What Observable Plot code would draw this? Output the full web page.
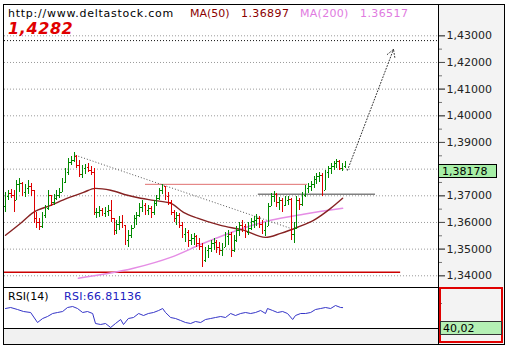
<!DOCTYPE html>
<html><head><meta charset="utf-8">
<script src="https://cdn.jsdelivr.net/npm/d3@7"></script>
<script src="https://cdn.jsdelivr.net/npm/@observablehq/plot@0.6"></script>
<style>
html,body{margin:0;padding:0;background:#fff;}
#wrap{position:relative;width:509px;height:351px;overflow:hidden;font-family:"DejaVu Sans",Verdana,sans-serif;font-size:11px;line-height:1;}
.abs{position:absolute;white-space:nowrap;}
#price,#rsi{position:absolute;left:0;}
#price{top:0;} #rsi{top:287px;}
</style></head><body><div id="wrap">
<div class="abs" style="left:438px;top:4px;width:66px;height:341px;background:#f3f3f3"></div>
<div class="abs" style="left:4px;top:329px;width:434px;height:15px;background:#f1f1f1"></div>
<div id="price"></div>
<div id="rsi"></div>
<div class="abs" style="left:3px;top:4px;width:502px;height:341px;border:1px solid #000;box-sizing:border-box"></div>
<div class="abs" style="left:438px;top:4px;width:1px;height:341px;background:#000"></div>
<div class="abs" style="left:4px;top:287px;width:434px;height:1px;background:#000"></div>
<div class="abs" style="left:4px;top:328px;width:434px;height:1px;background:#000"></div>
<div class="abs" style="left:439px;top:287px;width:64px;height:56px;border:2px solid #e00000;box-sizing:border-box"></div>
<div id="hdr"></div>
</div>
<script>
// ---- data (bar index 0..119) ----
const high = [
1.3713,1.3721,1.3724,1.3721,1.3758,1.3766,1.3751,1.3743,1.3758,1.3747,
1.3721,1.3638,1.3616,1.3638,1.3664,1.3721,1.3702,1.3706,1.3721,1.3728,
1.3766,1.3803,1.3841,1.3848,1.3863,1.3852,1.3833,1.3814,1.3818,1.3822,
1.3811,1.3803,1.3653,1.3661,1.3653,1.3657,1.3664,1.3683,1.3616,1.3608,
1.3623,1.3627,1.3589,1.3571,1.3589,1.3627,1.3638,1.3672,1.3683,1.3672,
1.3664,1.3661,1.3683,1.3702,1.3728,1.3743,1.3736,1.3713,1.3683,1.3646,
1.3638,1.3634,1.3601,1.3578,1.3571,1.3556,1.3559,1.3552,1.3541,1.3522,
1.3507,1.3514,1.3533,1.3541,1.3533,1.3526,1.3522,1.3563,1.3571,1.3563,
1.3552,1.3586,1.3601,1.3608,1.3593,1.3601,1.3616,1.3623,1.3631,1.3623,
1.3608,1.3601,1.3672,1.3709,1.3717,1.3709,1.3694,1.3691,1.3698,1.3698,
1.3691,1.3601,1.3698,1.3691,1.3713,1.3739,1.3747,1.3754,1.3773,1.3784,
1.3788,1.3784,1.3796,1.3811,1.3822,1.3829,1.3837,1.3833,1.3822,1.3829];
const low = [
1.3638,1.3683,1.3691,1.3638,1.3683,1.3713,1.3698,1.3694,1.3706,1.3698,
1.3597,1.3578,1.3571,1.3578,1.3616,1.3646,1.3661,1.3664,1.3683,1.3691,
1.3713,1.3747,1.3777,1.3814,1.3826,1.3803,1.3769,1.3766,1.3781,1.3788,
1.3777,1.3627,1.3616,1.3619,1.3623,1.3619,1.3623,1.3601,1.3552,1.3556,
1.3571,1.3578,1.3514,1.3507,1.3541,1.3578,1.3589,1.3619,1.3638,1.3627,
1.3627,1.3616,1.3627,1.3661,1.3683,1.3706,1.3683,1.3664,1.3627,1.3601,
1.3589,1.3578,1.3541,1.3526,1.3507,1.3514,1.3514,1.3507,1.3496,1.3432,
1.3451,1.3466,1.3488,1.3496,1.3484,1.3477,1.3473,1.3507,1.3514,1.3469,
1.3488,1.3526,1.3548,1.3563,1.3541,1.3552,1.3571,1.3578,1.3586,1.3578,
1.3556,1.3548,1.3586,1.3661,1.3676,1.3657,1.3646,1.3638,1.3661,1.3664,
1.3533,1.3522,1.3575,1.3646,1.3661,1.3694,1.3709,1.3717,1.3728,1.3743,
1.3751,1.3698,1.3718,1.3766,1.3781,1.3796,1.3803,1.3796,1.3792,1.3803];
const close = [
1.3698,1.3709,1.3702,1.3683,1.3743,1.3747,1.3713,1.3728,1.3736,1.3721,
1.3616,1.3601,1.3586,1.3627,1.3653,1.3702,1.3676,1.3691,1.3702,1.3713,
1.3751,1.3788,1.3826,1.3833,1.3848,1.3814,1.3781,1.3803,1.3807,1.3796,
1.3788,1.3638,1.3638,1.3646,1.3634,1.3642,1.3646,1.3616,1.3571,1.3593,
1.3601,1.3589,1.3533,1.3552,1.3578,1.3616,1.3627,1.3657,1.3664,1.3646,
1.3653,1.3638,1.3672,1.3691,1.3721,1.3736,1.3698,1.3676,1.3638,1.3616,
1.3627,1.3589,1.3556,1.3563,1.3533,1.3541,1.3548,1.3522,1.3511,1.3458,
1.3496,1.3503,1.3522,1.3526,1.3507,1.3496,1.3507,1.3548,1.3556,1.3496,
1.3533,1.3571,1.3589,1.3586,1.3563,1.3578,1.3604,1.3608,1.3616,1.3593,
1.3571,1.3586,1.3661,1.3698,1.3706,1.3676,1.3683,1.3664,1.3683,1.3687,
1.3556,1.3578,1.3683,1.3668,1.3702,1.3728,1.3736,1.3743,1.3762,1.3773,
1.3777,1.3721,1.3788,1.3803,1.3811,1.3822,1.3829,1.3803,1.3811,1.3818];
const firstOpen = 1.3660;

const ma50Idx = [0,5.3,9.8,15.8,21.7,27.3,31.5,36.8,42.7,47.3,51.8,57.8,62.3,67.2,75.3,83.3,91,96.3,102.2,107.8,113.8,118];
const ma50 = [1.3552,1.3597,1.3638,1.3664,1.3691,1.3713,1.3728,1.3721,1.3702,1.3691,1.3683,1.3672,1.3638,1.3616,1.3589,1.3571,1.3544,1.3559,1.3582,1.3608,1.3653,1.3691];
const ma200Idx = [25.5,44.8,57.8,69.3,81.2,92.8,104.3,118];
const ma200 = [1.3391,1.3428,1.3469,1.3522,1.3571,1.3608,1.3631,1.3653];

const rsiIdx = [0,1.8,4.2,6.3,8.8,11.2,13,14.7,16.5,18.2,20,21.7,23.5,25.2,27,28.7,30.5,31.5,33.3,35,36.8,38.5,40.3,41.3,43,44.8,46.6,48.3,50,51.8,53.6,55,56,57.8,59.5,61.3,63,64.8,66.5,68.3,70,71.8,73.5,75.3,77,78.8,80.5,82.3,84,85.8,87.5,89.3,91,91.7,93.5,95.2,97,98.7,100.5,101.5,103.3,105,106.8,108.5,110.3,112,113.8,115.5,117.3,118];
const rsi = [65,67,63,59,57,37,45,49,55,57,59,67,69,65,57,59,55,35,33,35,27,35,43,33,45,47,55,51,55,57,61,65,57,47,45,41,37,35,39,37,43,45,47,49,47,55,51,55,57,55,57,61,55,65,61,57,59,55,43,51,55,55,57,63,65,67,65,71,67,66.8];

const gridLevels = [1.34,1.35,1.36,1.37,1.38,1.39,1.40,1.41,1.42,1.43];
const labelLevels = [1.34,1.35,1.36,1.37,1.39,1.40,1.41,1.42,1.43]; // 1.38 is hidden under the last-price box
const minorLevels = [1.345,1.355,1.365,1.375,1.385,1.395,1.405,1.415,1.425];
const targetLevel = 1.4282;
const trendX = [24.5, 99.75], trendY = [1.3852, 1.3578];
const resistX = [49, 105.7], resistLevel = 1.3743;
const neckX = [88.5, 129.5], neckLevel = 1.3706;
const supportX = [-0.35, 138.3], supportLevel = 1.3413;
const projX = [119.7, 135.8], projY = [1.3796, 1.4249];

const headerTexts = {url:"http://www.deltastock.com", ma50Name:"MA(50)", ma50Val:"1.36897", ma200Name:"MA(200)", ma200Val:"1.36517", target:"1,4282", rsiName:"RSI(14)", rsiVal:"RSI:66.81136", lastPrice:"1,38178", rsiAxis:"40,02"};

// ---- build ----
const bars = close.map((c,i)=>({i, open: i ? close[i-1] : firstOpen, high: high[i], low: low[i], close: c}));
const UP = "#008a00", DOWN = "#dd0000";
const col = d => d.close >= d.open ? UP : DOWN;
const xDomain = [-0.35, 151.55];
const fmt = d => d.toFixed(5).replace(".", ",");

const pricePlot = Plot.plot({
  width: 509, height: 351,
  marginTop: 4, marginBottom: 64, marginLeft: 4, marginRight: 71,
  x: {domain: xDomain, axis: null},
  y: {domain: [1.33561, 1.44174], axis: null},
  color: {type: "identity"},
  style: {background: "transparent", fontFamily: "DejaVu Sans", fontSize: "11px", color: "#222"},
  marks: [
    Plot.gridY(gridLevels, {stroke: "#9a9a9a", strokeOpacity: 1, strokeDasharray: "1,2"}),
    Plot.ruleY([targetLevel], {stroke: "#111", strokeDasharray: "1,2"}),
    Plot.ruleY([supportLevel], {x1: supportX[0], x2: supportX[1], stroke: "#cc0000", strokeWidth: 1.5}),
    Plot.ruleY([resistLevel], {x1: resistX[0], x2: resistX[1], stroke: "#e07070", strokeWidth: 1}),
    Plot.ruleY([neckLevel], {x1: neckX[0], x2: neckX[1], stroke: "#808080", strokeWidth: 1.5}),
    Plot.link([0], {x1: trendX[0], y1: trendY[0], x2: trendX[1], y2: trendY[1], stroke: "#555", strokeDasharray: "1,2"}),
    Plot.line(ma200.map((v,k)=>({i: ma200Idx[k], v})), {x: "i", y: "v", stroke: "#e58de5", strokeWidth: 1.5, curve: "monotone-x"}),
    Plot.line(ma50.map((v,k)=>({i: ma50Idx[k], v})), {x: "i", y: "v", stroke: "#862222", strokeWidth: 1.4, curve: "monotone-x"}),
    Plot.ruleX(bars, {x: "i", y1: "low", y2: "high", stroke: col, shapeRendering: "crispEdges"}),
    Plot.ruleY(bars, {y: "open", x1: d => d.i - 0.45, x2: "i", stroke: col, shapeRendering: "crispEdges"}),
    Plot.ruleY(bars, {y: "close", x1: "i", x2: d => d.i + 0.45, stroke: col, shapeRendering: "crispEdges"}),
    Plot.arrow([0], {x1: projX[0], y1: projY[0], x2: projX[1], y2: projY[1], stroke: "#333", strokeDasharray: "1,2", headLength: 12, strokeWidth: 1}),
    Plot.axisY(gridLevels, {anchor: "right", tickSize: 6, tickFormat: () => "", stroke: "#555", label: null}),
    Plot.axisY(labelLevels, {anchor: "right", tickSize: 6, tickPadding: 2, tickFormat: fmt, stroke: "#555", fill: "#222", label: null}),
    Plot.axisY(minorLevels, {anchor: "right", tickSize: 3, tickFormat: () => "", stroke: "#777", label: null})
  ]
});
document.getElementById("price").appendChild(pricePlot);

const rsiPlot = Plot.plot({
  width: 509, height: 56,
  marginTop: 0, marginBottom: 14, marginLeft: 4, marginRight: 71,
  x: {domain: xDomain, axis: null},
  y: {domain: [23, 107], axis: null},
  style: {background: "transparent"},
  marks: [
    Plot.line(rsi.map((v,k)=>({i: rsiIdx[k], v})), {x: "i", y: "v", stroke: "#3535c8", strokeWidth: 1}),
    Plot.axisY([75], {anchor: "right", tickSize: 3, tickFormat: () => "", stroke: "#777", label: null})
  ]
});
document.getElementById("rsi").appendChild(rsiPlot);

// header & labels
const hdr = document.getElementById("hdr");
function label(text, left, top, style) {
  const d = document.createElement("div");
  d.className = "abs"; d.textContent = text;
  d.style.left = left + "px"; d.style.top = top + "px";
  Object.assign(d.style, style || {});
  hdr.appendChild(d);
}
label(headerTexts.url, 8, 8, {color: "#000", letterSpacing: "0.75px"});
label(headerTexts.ma50Name, 190, 8, {color: "#8b0000"});
label(headerTexts.ma50Val, 241, 8, {color: "#8b0000", letterSpacing: "0.4px"});
label(headerTexts.ma200Name, 300, 8, {color: "#e07ae0", letterSpacing: "0.3px"});
label(headerTexts.ma200Val, 360, 8, {color: "#e07ae0", letterSpacing: "0.4px"});
label(headerTexts.target, 8, 21, {color: "#e00000", fontSize: "16px", fontWeight: "bold", fontStyle: "italic", letterSpacing: "0.6px"});
label(headerTexts.rsiName, 8, 291, {color: "#000"});
label(headerTexts.rsiVal, 64, 291, {color: "#2020c0", letterSpacing: "0.3px"});
label(headerTexts.lastPrice, 438, 164, {background: "#a6eea6", border: "1px solid #000", height: "12px", paddingLeft: "3px", lineHeight: "13px", width: "54px", color: "#000"});
label(headerTexts.rsiAxis, 440, 321, {background: "#b4f0b4", border: "1px solid #333", height: "12px", lineHeight: "13px", width: "58px", paddingLeft: "2px", color: "#000"});
</script>
</body></html>
